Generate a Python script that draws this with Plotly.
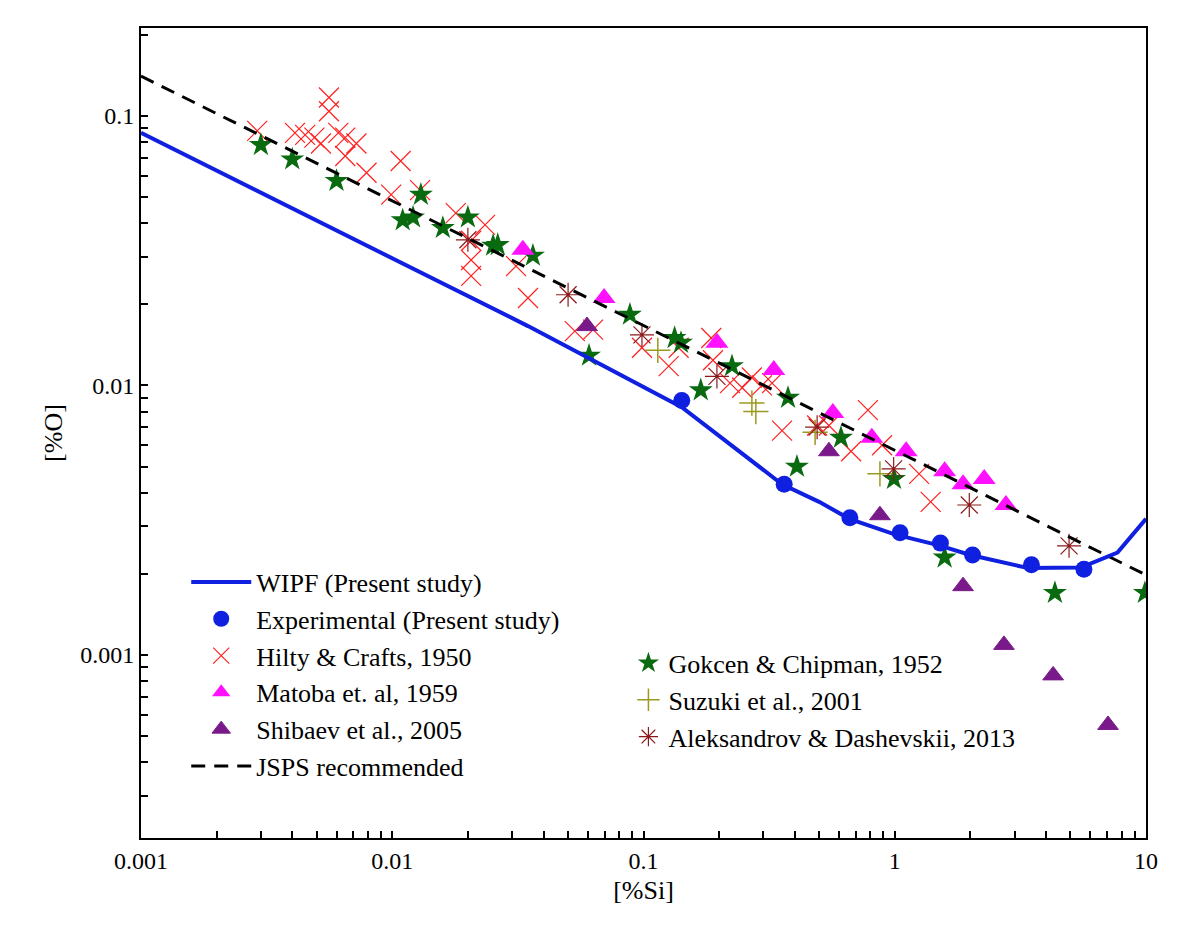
import plotly.graph_objects as go

# WIPF model curve
wipf_si = [0.001, 0.0347, 0.142, 0.356, 0.5, 0.66, 1.0, 1.5, 2.0, 3.4, 5.5, 7.7, 10]
wipf_o = [0.0865, 0.0166, 0.0083, 0.0043, 0.0037, 0.0032, 0.0028, 0.00255, 0.00235, 0.0021, 0.00211, 0.0024, 0.0032]

# JSPS recommended line
jsps_si = [0.001, 10]
jsps_o = [0.1405, 0.00198]

exp_si = [0.142, 0.363, 0.663, 1.05, 1.52, 2.04, 3.5, 5.66]
exp_o = [0.0088, 0.0043, 0.00323, 0.00284, 0.0026, 0.00235, 0.00216, 0.00208]

hilty_si = [0.0029, 0.0056, 0.0056, 0.0041, 0.0045, 0.0049, 0.0052, 0.0061, 0.0065, 0.0072,
            0.0065, 0.0079, 0.0108, 0.0099, 0.0129, 0.0179, 0.0234, 0.0206, 0.0206, 0.0206,
            0.0311, 0.0347, 0.0533, 0.063, 0.0986, 0.126, 0.138, 0.186, 0.189, 0.221,
            0.247, 0.27, 0.296, 0.325, 0.356, 0.491, 0.547, 0.67, 0.782, 0.89, 1.25, 1.39]
hilty_o = [0.088, 0.117, 0.104, 0.0865, 0.085, 0.083, 0.079, 0.0865, 0.083, 0.079,
           0.071, 0.0615, 0.068, 0.051, 0.053, 0.0436, 0.0394, 0.0344, 0.0292, 0.0255,
           0.0277, 0.0211, 0.0159, 0.0161, 0.0138, 0.0118, 0.0138, 0.015, 0.0124, 0.0102,
           0.0098, 0.0107, 0.0100, 0.0102, 0.0068, 0.0071, 0.0071, 0.0057, 0.0081, 0.006, 0.0047, 0.0037]

gokcen_si = [0.003, 0.004, 0.006, 0.013, 0.011, 0.0121, 0.0159, 0.020, 0.0252, 0.0263, 0.0363,
             0.0883, 0.0607, 0.133, 0.141, 0.169, 0.225, 0.376, 0.408, 0.611, 0.993, 1.58, 4.34, 9.9]
gokcen_o = [0.078, 0.069, 0.0574, 0.051, 0.041, 0.042, 0.0384, 0.042, 0.033, 0.0332, 0.0303,
            0.0183, 0.0129, 0.015, 0.0144, 0.0096, 0.0118, 0.009, 0.005, 0.0064, 0.0045, 0.0023, 0.0017, 0.0017]

matoba_si = [0.0331, 0.0697, 0.196, 0.33, 0.567, 0.81, 1.11, 1.58, 1.87, 2.27, 2.77]
matoba_o = [0.0319, 0.0211, 0.0144, 0.0114, 0.0079, 0.0064, 0.0057, 0.0048, 0.0043, 0.0045, 0.0036]

suzuki_si = [0.114, 0.27, 0.28, 0.482, 0.873]
suzuki_o = [0.0135, 0.0086, 0.0080, 0.0067, 0.0047]

shibaev_si = [0.0596, 0.547, 0.873, 1.87, 2.72, 4.27, 7.06]
shibaev_o = [0.0166, 0.0057, 0.0033, 0.0018, 0.00109, 0.00084, 0.00055]

aleks_si = [0.02, 0.0501, 0.0986, 0.196, 0.491, 0.99, 1.98, 4.94]
aleks_o = [0.0347, 0.0217, 0.0154, 0.0108, 0.0070, 0.0049, 0.0036, 0.00254]

FONT = "Liberation Serif, Times New Roman, Times, serif"

fig = go.Figure()

fig.add_trace(go.Scatter(x=hilty_si, y=hilty_o, mode="markers", name="Hilty & Crafts, 1950",
                         marker=dict(symbol="x-thin", size=20, color="#ff2020", line=dict(color="#ff2020", width=1.2))))
fig.add_trace(go.Scatter(x=gokcen_si, y=gokcen_o, mode="markers", name="Gokcen & Chipman, 1952",
                         legend="legend2", marker=dict(symbol="star", size=18, color="#0a6a10")))
fig.add_trace(go.Scatter(x=matoba_si, y=matoba_o, mode="markers", name="Matoba et. al, 1959",
                         marker=dict(symbol="triangle-up", size=20, color="#ff10ff")))
fig.add_trace(go.Scatter(x=suzuki_si, y=suzuki_o, mode="markers", name="Suzuki et al., 2001",
                         legend="legend2", marker=dict(symbol="cross-thin", size=18, color="#9a9a20",
                                                       line=dict(color="#9a9a20", width=1.5))))
fig.add_trace(go.Scatter(x=shibaev_si, y=shibaev_o, mode="markers", name="Shibaev et al., 2005",
                         marker=dict(symbol="triangle-up", size=18, color="#7a1a8a",
                                     line=dict(color="#7a1a8a", width=1))))
fig.add_trace(go.Scatter(x=aleks_si, y=aleks_o, mode="markers", name="Aleksandrov & Dashevskii, 2013",
                         legend="legend2", marker=dict(symbol="asterisk-open", size=20, color="#8b1a1a",
                                                       line=dict(color="#8b1a1a", width=1.2))))
fig.add_trace(go.Scatter(x=jsps_si, y=jsps_o, mode="lines", name="JSPS recommended",
                         line=dict(color="black", width=3, dash="14px,9px")))
fig.add_trace(go.Scatter(x=wipf_si, y=wipf_o, mode="lines", name="WIPF (Present study)",
                         line=dict(color="#1020e0", width=4)))
fig.add_trace(go.Scatter(x=exp_si, y=exp_o, mode="markers", name="Experimental (Present study)",
                         marker=dict(symbol="circle", size=17, color="#1020e0")))

# ticks at every 1..9 of each decade, labels only on powers of ten
def log_ticks(lo, hi):
    vals, texts = [], []
    d = lo
    while d <= hi * 1.0001:
        for k in range(1, 10):
            v = k * d
            if v > hi * 1.0001:
                break
            vals.append(v)
            texts.append(("%g" % v) if k == 1 else "")
        d *= 10
    return vals, texts

xt_vals, xt_text = log_ticks(0.001, 10)
yt_vals, yt_text = log_ticks(0.0001, 0.2)

axis_common = dict(showline=True, linecolor="black", linewidth=2, mirror=True,
                   ticks="inside", ticklen=7, tickwidth=2, tickcolor="black",
                   showgrid=False, zeroline=False,
                   tickfont=dict(family=FONT, size=24, color="black"))

fig.update_layout(
    width=1182, height=929,
    margin=dict(l=133, r=44, t=20, b=99),
    plot_bgcolor="white", paper_bgcolor="white",
    font=dict(family=FONT, size=25, color="black"),
    xaxis=dict(type="log", range=[-3, 1], tickmode="array", tickvals=xt_vals, ticktext=xt_text,
               title=dict(text="[%Si]", font=dict(family=FONT, size=26), standoff=8), **axis_common),
    yaxis=dict(type="log", range=[-3.679, -0.674], tickmode="array", tickvals=yt_vals, ticktext=yt_text,
               title=dict(text="[%O]", font=dict(family=FONT, size=26), standoff=10), **axis_common),
    legend=dict(x=0.045, y=0.345, xanchor="left", yanchor="top", bgcolor="rgba(0,0,0,0)",
                traceorder="normal", font=dict(family=FONT, size=26), itemwidth=60,
                tracegroupgap=0),
    legend2=dict(x=0.485, y=0.245, xanchor="left", yanchor="top", bgcolor="rgba(0,0,0,0)",
                 font=dict(family=FONT, size=26), itemwidth=30),
    showlegend=True,
)

# legend order: WIPF, Experimental, Hilty, Matoba, Shibaev, JSPS
order = {"WIPF (Present study)": 1, "Experimental (Present study)": 2, "Hilty & Crafts, 1950": 3,
         "Matoba et. al, 1959": 4, "Shibaev et al., 2005": 5, "JSPS recommended": 6,
         "Gokcen & Chipman, 1952": 1, "Suzuki et al., 2001": 2, "Aleksandrov & Dashevskii, 2013": 3}
for tr in fig.data:
    tr.legendrank = order[tr.name]

fig.write_html("out.html")
